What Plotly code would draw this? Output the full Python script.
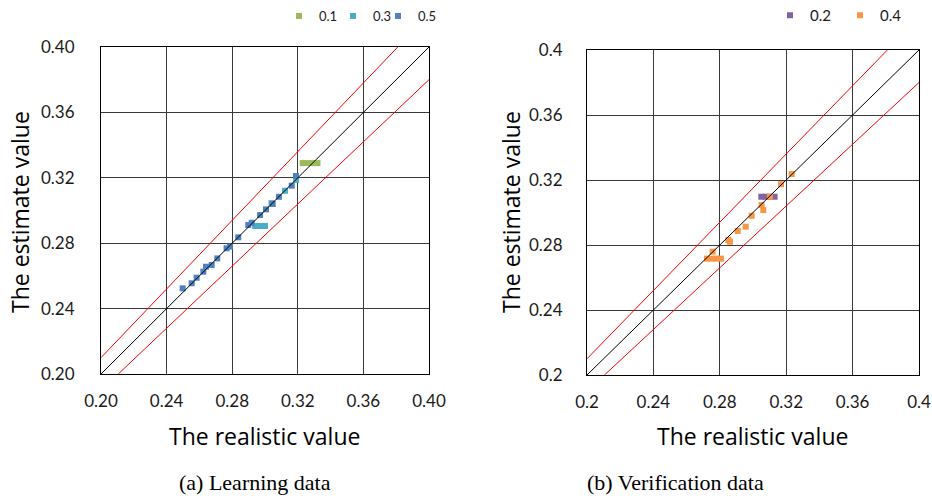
import plotly.graph_objects as go

# ---- (a) Learning data: estimate vs realistic value, grouped by parameter ----
learn_01_x = [0.323, 0.326, 0.329, 0.332]
learn_01_y = [0.329, 0.329, 0.329, 0.329]

learn_03_x = [0.294, 0.296, 0.298, 0.300, 0.304, 0.3122, 0.319]
learn_03_y = [0.2905, 0.2905, 0.2905, 0.2905, 0.3045, 0.3121, 0.3187]

learn_05_x = [0.2498, 0.2553, 0.2583, 0.2624, 0.2640, 0.2675, 0.2709, 0.2766,
              0.2787, 0.2837, 0.2898, 0.2919, 0.2970, 0.3006, 0.3047, 0.3085,
              0.3163, 0.3189]
learn_05_y = [0.2524, 0.2555, 0.2589, 0.2626, 0.2656, 0.2667, 0.2707, 0.2769,
              0.2779, 0.2836, 0.2911, 0.2925, 0.2972, 0.3007, 0.3040, 0.3084,
              0.3152, 0.3211]

# ---- (b) Verification data ----
verif_02_x = [0.305, 0.3075, 0.310, 0.313]
verif_02_y = [0.3097, 0.3097, 0.3097, 0.3097]

verif_04_x = [0.2723, 0.2751, 0.2779, 0.2807, 0.2757, 0.2851, 0.2861, 0.2908,
              0.2956, 0.2992, 0.3052, 0.3062, 0.3102, 0.3169, 0.3233]
verif_04_y = [0.2716, 0.2716, 0.2716, 0.2716, 0.2759, 0.2831, 0.2820, 0.2886,
              0.2913, 0.2980, 0.3046, 0.3015, 0.3097, 0.3174, 0.3237]

# Reference lines: perfect agreement and +/-5 % bands
ref_x = [0.20, 0.40]
band_ratio = 0.05

axis_range = [0.20, 0.40]
tick_vals = [0.20, 0.24, 0.28, 0.32, 0.36, 0.40]
tick_text_a = ["0.20", "0.24", "0.28", "0.32", "0.36", "0.40"]
tick_text_b = ["0.2", "0.24", "0.28", "0.32", "0.36", "0.4"]

COL = {"0.1": "#9BBB59", "0.3": "#4BACC6", "0.5": "#4F81BD",
       "0.2": "#8064A2", "0.4": "#F79646"}

W, H = 932, 499
fig = go.Figure()


def add_points(x, y, name, xa, ya, legend):
    fig.add_trace(go.Scatter(
        x=x, y=y, mode="markers", name=name, xaxis=xa, yaxis=ya,
        legend=legend,
        marker=dict(symbol="square", size=6, color=COL[name], line=dict(width=0)),
    ))


def add_ref_lines(xa, ya):
    x_hi = [ref_x[0], ref_x[1] / (1 + band_ratio)]
    y_hi = [v * (1 + band_ratio) for v in x_hi]
    x_lo = [ref_x[0] / (1 - band_ratio), ref_x[1]]
    y_lo = [v * (1 - band_ratio) for v in x_lo]
    for xs, ys, c in [(ref_x, ref_x, "#000000"), (x_hi, y_hi, "#FF0000"), (x_lo, y_lo, "#FF0000")]:
        fig.add_trace(go.Scatter(x=xs, y=ys, mode="lines", xaxis=xa, yaxis=ya,
                                 line=dict(color=c, width=1), showlegend=False,
                                 hoverinfo="skip"))


add_points(learn_01_x, learn_01_y, "0.1", "x", "y", "legend")
add_points(learn_03_x, learn_03_y, "0.3", "x", "y", "legend2")
add_points(learn_05_x, learn_05_y, "0.5", "x", "y", "legend3")
add_ref_lines("x", "y")

add_points(verif_02_x, verif_02_y, "0.2", "x2", "y2", "legend4")
add_points(verif_04_x, verif_04_y, "0.4", "x2", "y2", "legend5")
add_ref_lines("x2", "y2")

TICK_FONT = dict(family="Lato, Noto Sans, sans-serif", size=17, color="#1a1a1a")


def axis(domain, ticktext, anchor, standoff):
    return dict(domain=domain, range=axis_range, tickmode="array",
                tickvals=tick_vals, ticktext=ticktext, anchor=anchor,
                showgrid=True, gridcolor="#3a3a3a", gridwidth=1,
                showline=True, linecolor="#000000", linewidth=1, mirror=True,
                zeroline=False, ticks="", tickfont=TICK_FONT,
                ticklabelstandoff=standoff, fixedrange=True, automargin=False)


def legend_box(px, py, size):
    return dict(orientation="h", x=px / W, y=1 - py / H, xanchor="left", yanchor="top",
                itemwidth=30,
                font=dict(family="Lato, Noto Sans, sans-serif", size=size, color="#1a1a1a"),
                bgcolor="rgba(0,0,0,0)")


fig.update_layout(
    width=W, height=H,
    margin=dict(l=0, r=0, t=0, b=0, autoexpand=False),
    paper_bgcolor="white", plot_bgcolor="white",
    xaxis=axis([101 / W, 429 / W], tick_text_a, "y", 12),
    yaxis=axis([1 - 374 / H, 1 - 47 / H], tick_text_a, "x", 22),
    xaxis2=axis([587 / W, 919 / W], tick_text_b, "y2", 12),
    yaxis2=axis([1 - 375 / H, 1 - 50 / H], tick_text_b, "x2", 20),
    legend=legend_box(279, 1, 13),
    legend2=legend_box(333, 1, 13),
    legend3=legend_box(378, 1, 13),
    legend4=legend_box(770, -1, 15),
    legend5=legend_box(840, -1, 15),
    showlegend=True,
)

TITLE_FONT = dict(family="Open Sans, Noto Sans, sans-serif", size=23, color="#000000")
CAP_FONT = dict(family="Liberation Serif, Times New Roman, serif", size=22, color="#000000")

annots = [
    dict(text="The realistic value", x=264 / W, y=1 - 436 / H, font=TITLE_FONT),
    dict(text="The realistic value", x=752 / W, y=1 - 436 / H, font=TITLE_FONT),
    dict(text="The estimate value", x=20 / W, y=1 - 212 / H, font=TITLE_FONT, textangle=-90),
    dict(text="The estimate value", x=511 / W, y=1 - 212 / H, font=TITLE_FONT, textangle=-90),
    dict(text="(a) Learning data", x=255 / W, y=1 - 482 / H, font=CAP_FONT),
    dict(text="(b) Verification data", x=675 / W, y=1 - 482 / H, font=CAP_FONT),
]
for a in annots:
    fig.add_annotation(xref="paper", yref="paper", showarrow=False,
                       xanchor="center", yanchor="middle", **a)

fig.write_html("out.html")
